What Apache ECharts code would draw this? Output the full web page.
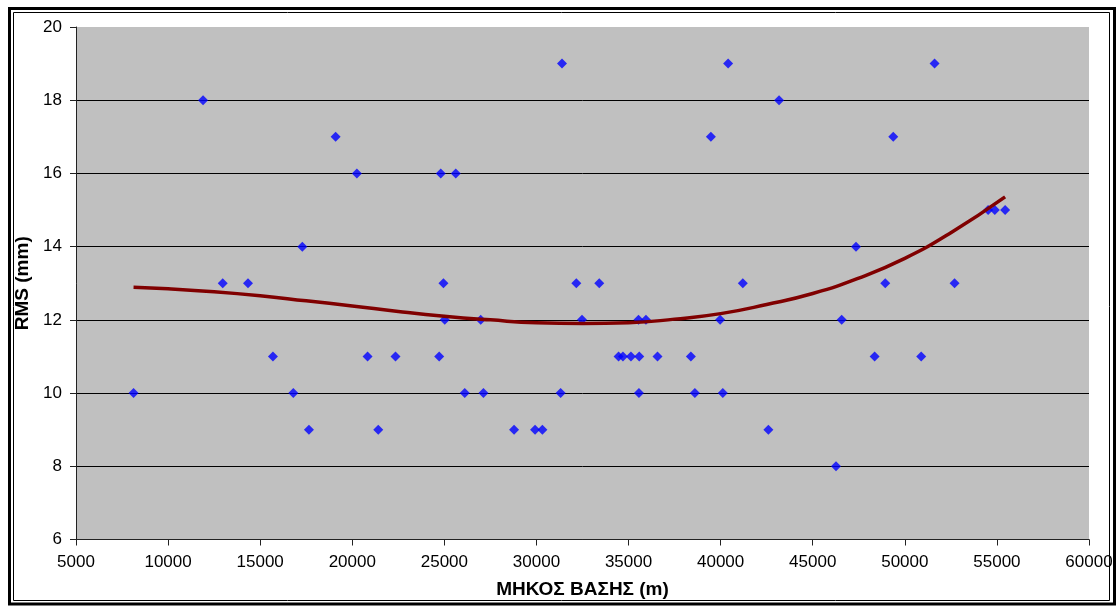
<!DOCTYPE html>
<html>
<head>
<meta charset="utf-8">
<script src="https://cdn.jsdelivr.net/npm/echarts@6/dist/echarts.min.js"></script>
<style>
html,body{margin:0;padding:0;background:#fff;}
#chart{width:1117px;height:606px;}
</style>
</head>
<body>
<div id="chart"></div>
<script>
// Measured points: base length (m) and RMS (mm)
const baseLength = [8124, 11898, 12966, 14339, 15694, 16800, 17288, 17646, 19095, 20249,
  20830, 21410, 22348, 24718, 24805, 24951, 25022, 25618, 26106, 26974,
  27120, 28785, 29924, 30320, 31312, 31388, 32164, 32473, 33411, 34458,
  34696, 35130, 35542, 35580, 35563, 35943, 36573, 38384, 38601, 39469,
  39973, 40119, 40407, 41204, 42592, 43172, 46264, 46573, 47348, 48362,
  48937, 49371, 50889, 51616, 52700, 54523, 54886, 55445];
const rms = [10, 18, 13, 13, 11, 10, 14, 9, 17, 16,
  11, 9, 11, 11, 16, 13, 12, 16, 10, 12,
  10, 9, 9, 9, 10, 19, 13, 12, 13, 11,
  11, 11, 12, 11, 10, 12, 11, 11, 10, 17,
  12, 10, 19, 13, 9, 18, 8, 12, 14, 11,
  13, 17, 11, 19, 13, 15, 15, 15];

// Trend line
const trendX = [8124, 10000, 12500, 15000, 17500, 20000, 22500, 25000, 27500, 30000,
  32500, 35000, 37500, 40000, 42500, 45000, 47500, 50000, 52500, 55445];
const trendY = [12.89, 12.85, 12.77, 12.66, 12.52, 12.38, 12.23, 12.10, 12.00, 11.92,
  11.90, 11.92, 12.02, 12.17, 12.42, 12.72, 13.14, 13.68, 14.38, 15.36];

const xName = 'ΜΗΚΟΣ ΒΑΣΗΣ (m)';
const yName = 'RMS (mm)';

const FONT = "'Liberation Sans', Arial, sans-serif";
const chart = echarts.init(document.getElementById('chart'), null, {renderer: 'canvas'});

const scatterData = baseLength.map((x, i) => [x, rms[i]]);
const trendData = trendX.map((x, i) => [x, trendY[i]]);

chart.setOption({
  animation: false,
  backgroundColor: '#ffffff',
  grid: {
    left: 76, right: 28, top: 27, bottom: 66.5,
    show: true, backgroundColor: '#C0C0C0', borderWidth: 0
  },
  xAxis: {
    type: 'value', min: 5000, max: 60000, interval: 5000,
    name: xName, nameLocation: 'middle', nameGap: 41,
    nameTextStyle: {fontFamily: FONT, fontSize: 19, fontWeight: 'bold', color: '#000'},
    axisLine: {show: true, lineStyle: {color: '#222', width: 1}},
    axisTick: {show: true, inside: false, length: 6, lineStyle: {color: '#222'}},
    axisLabel: {fontFamily: FONT, fontSize: 17, color: '#000', margin: 14,
      formatter: v => String(v)},
    splitLine: {show: false}
  },
  yAxis: {
    type: 'value', min: 6, max: 20, interval: 2,
    name: yName, nameLocation: 'middle', nameGap: 41, nameRotate: 90,
    nameTextStyle: {fontFamily: FONT, fontSize: 19, fontWeight: 'bold', color: '#000'},
    axisLine: {show: true, lineStyle: {color: '#222', width: 1}},
    axisTick: {show: true, inside: false, length: 6, lineStyle: {color: '#222'}},
    axisLabel: {fontFamily: FONT, fontSize: 17, color: '#000', margin: 14,
      formatter: v => String(v)},
    splitLine: {show: true, lineStyle: {color: ['#000','#000','#000','#000','#000','#000','#000','rgba(0,0,0,0)'], width: 1}}
  },
  series: [
    {
      type: 'scatter', data: scatterData,
      symbol: 'diamond', symbolSize: 10,
      itemStyle: {color: '#0000FF'}, z: 2
    },
    {
      type: 'line', data: trendData, smooth: true, showSymbol: false,
      lineStyle: {color: '#800000', width: 3.5}, z: 3
    }
  ],
  graphic: [
    {type: 'rect', shape: {x: 9.5, y: 8.5, width: 1105, height: 595.5},
     style: {fill: null, stroke: '#000', lineWidth: 3}, silent: true, z: 100},
    {type: 'rect', shape: {x: 13.5, y: 12.5, width: 1096, height: 588},
     style: {fill: null, stroke: '#000', lineWidth: 1}, silent: true, z: 100}
  ]
});
</script>
</body>
</html>
